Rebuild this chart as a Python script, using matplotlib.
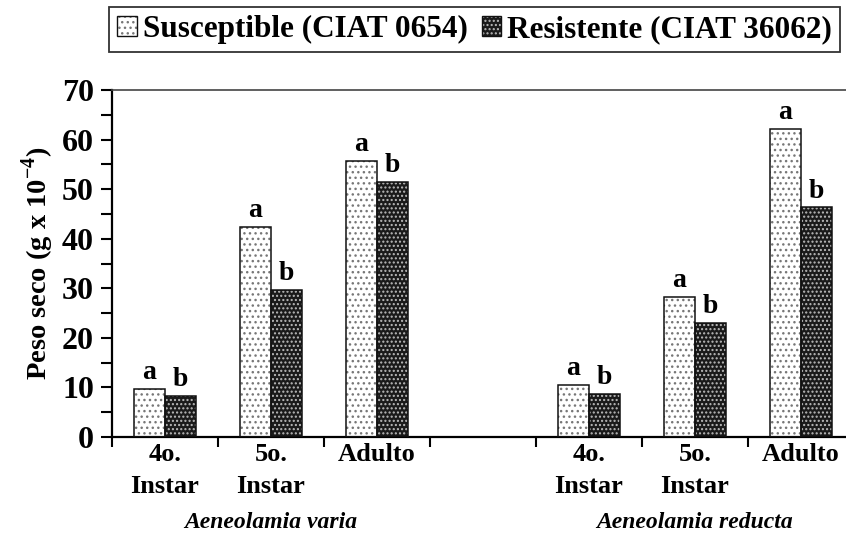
import matplotlib
matplotlib.use("Agg")
import matplotlib.pyplot as plt
import matplotlib.patches as mpatches
from matplotlib.legend_handler import HandlerTuple
from matplotlib.ticker import MultipleLocator
import numpy as np

# ── data ──────────────────────────────────────────────────────────────
STAGES = ["4o.\nInstar", "5o.\nInstar", "Adulto"]
SPECIES = ["Aeneolamia varia", "Aeneolamia reducta"]
SUSCEPTIBLE = [9.6, 42.4, 55.7, 10.5, 28.2, 62.1]
RESISTENTE = [8.3, 29.7, 51.5, 8.6, 23.0, 46.3]
LETTERS_S = ["a", "a", "a", "a", "a", "a"]
LETTERS_R = ["b", "b", "b", "b", "b", "b"]
SERIES = ["Susceptible (CIAT 0654)", "Resistente (CIAT 36062)"]

plt.rcParams["font.family"] = ["Liberation Serif", "DejaVu Serif"]
plt.rcParams["font.weight"] = "bold"
plt.rcParams["mathtext.fontset"] = "custom"
plt.rcParams["mathtext.rm"] = "Liberation Serif:bold"
plt.rcParams["mathtext.bf"] = "Liberation Serif:bold"
plt.rcParams["hatch.linewidth"] = 1.0

W, H = 846, 559
fig = plt.figure(figsize=(W / 100, H / 100), dpi=100)
ax = fig.add_axes([112 / W, 1 - 437 / H, 1 - 112 / W, 347 / H])

# slot positions: 3 stages, empty slot, 3 stages
xpos = np.array([0, 1, 2, 4, 5, 6])
bw = 0.295

def draw_bars(x, vals, face, hcol, hatch):
    ax.bar(x, vals, bw, color=face, edgecolor=hcol, hatch=hatch, linewidth=0, zorder=2)
    ax.bar(x, vals, bw, fill=False, edgecolor="#111", linewidth=1.1, zorder=3)

draw_bars(xpos - bw / 2, SUSCEPTIBLE, "white", "#777", "...")
draw_bars(xpos + bw / 2, RESISTENTE, "#1a1a1a", "#bbb", "....")

for x, v, t in zip(xpos - bw / 2, SUSCEPTIBLE, LETTERS_S):
    ax.text(x, v + 0.8, t, ha="center", va="bottom", fontsize=20, fontweight="bold")
for x, v, t in zip(xpos + bw / 2, RESISTENTE, LETTERS_R):
    ax.text(x, v + 0.8, t, ha="center", va="bottom", fontsize=20, fontweight="bold")

ax.set_xlim(-0.5, -0.5 + (W - 112) / 106)
ax.set_ylim(0, 70)
ax.yaxis.set_major_locator(MultipleLocator(10))
ax.yaxis.set_minor_locator(MultipleLocator(5))
ax.tick_params(axis="y", which="both", direction="out", length=8, width=1.5,
               labelsize=23, pad=5)

# boundary ticks (major) + category labels (minor)
ax.set_xticks(np.arange(-0.5, 6.5, 1.0))
ax.set_xticklabels([])
ax.tick_params(axis="x", which="major", direction="out", length=7, width=1.5)
ax.set_xticks(xpos, STAGES * 2, minor=True)
ax.tick_params(axis="x", which="minor", length=0, pad=4, labelsize=19)
for lab in ax.get_xticklabels(minor=True):
    lab.set_linespacing(1.5)

for sp in ["left", "bottom"]:
    ax.spines[sp].set_linewidth(1.6)
ax.spines["top"].set_linewidth(1.2)
ax.spines["top"].set_color("#444")
ax.spines["right"].set_visible(False)

ax.set_ylabel("Peso seco (g x 10$^{\\mathrm{-4}}$)", fontsize=20.5, fontweight="bold", labelpad=4)

for cx, name in zip([1, 5], SPECIES):
    ax.text(cx, -0.245, name, transform=ax.get_xaxis_transform(), ha="center", va="center",
            fontsize=17, fontweight="bold", style="italic")

# legend
h_s = (mpatches.Patch(facecolor="white", edgecolor="#777", hatch="...", linewidth=0),
       mpatches.Patch(fill=False, edgecolor="#111", linewidth=1.0))
h_r = (mpatches.Patch(facecolor="#1a1a1a", edgecolor="#bbb", hatch="....", linewidth=0),
       mpatches.Patch(fill=False, edgecolor="#111", linewidth=1.0))
leg = fig.legend([h_s, h_r], SERIES, handler_map={tuple: HandlerTuple(ndivide=1)},
                 loc="upper right", bbox_to_anchor=(840 / W, 1 - 7 / H), ncol=2,
                 fontsize=22.5, frameon=True, fancybox=False, edgecolor="black",
                 handlelength=0.62, handleheight=0.58, handletextpad=0.2, columnspacing=0.45,
                 borderpad=0.25, borderaxespad=0)
leg.get_frame().set_linewidth(1.3)

fig.savefig("out.png", dpi=100, facecolor="white")
